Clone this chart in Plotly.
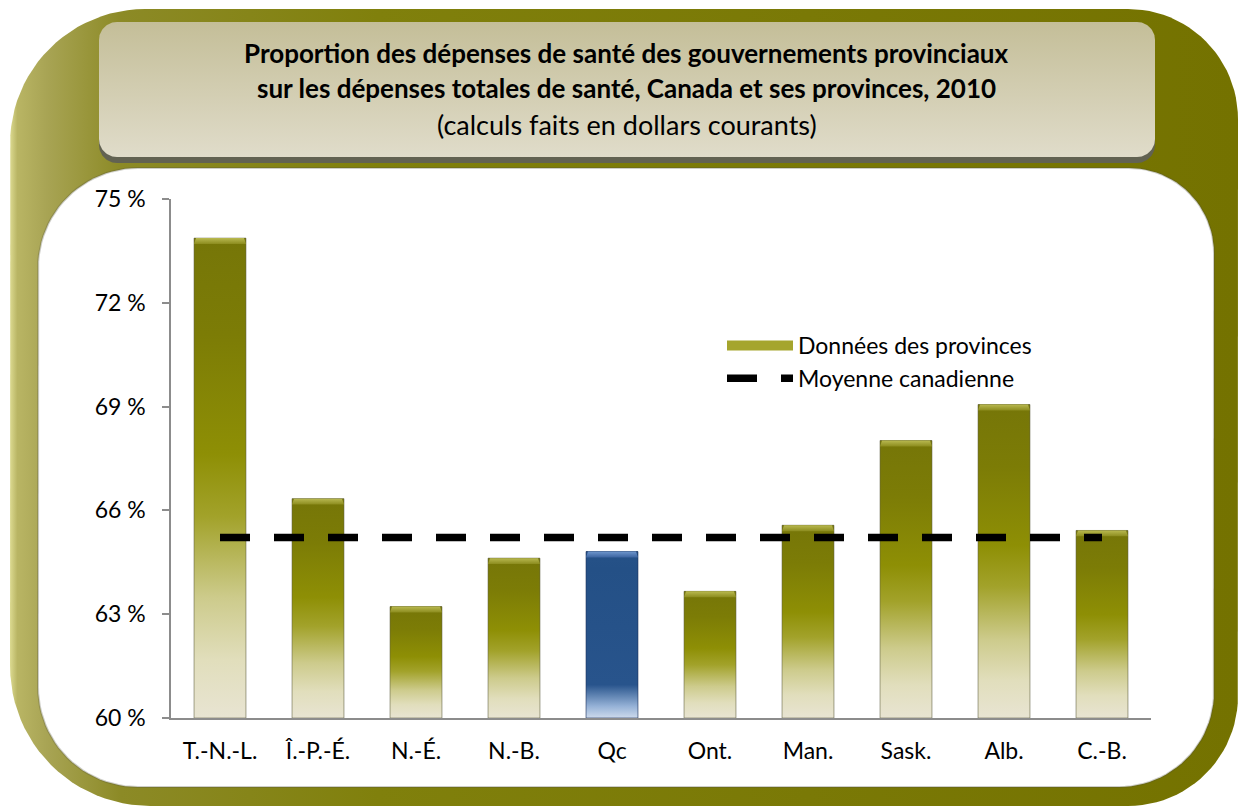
import math
import plotly.graph_objects as go

# ---------------- data ----------------
categories = ["T.-N.-L.", "Î.-P.-É.", "N.-É.", "N.-B.", "Qc", "Ont.", "Man.", "Sask.", "Alb.", "C.-B."]
province_share = [73.87, 66.34, 63.22, 64.62, 64.81, 63.66, 65.57, 68.02, 69.06, 65.42]
canada_average = 65.22
y_tick_values = [60, 63, 66, 69, 72, 75]
y_tick_labels = ["60 %", "63 %", "66 %", "69 %", "72 %", "75 %"]
highlight_category = "Qc"

title_line1 = "Proportion des dépenses de santé des gouvernements provinciaux"
title_line2 = "sur les dépenses totales de santé, Canada et ses provinces, 2010"
title_line3 = "(calculs faits en dollars courants)"
series_bar_name = "Données des provinces"
series_line_name = "Moyenne canadienne"

# ---------------- style ----------------
W, H = 1239, 810
FONT = "Lato"
OLIVE = "rgb(128,128,8)"
BLUE = "rgb(36,80,135)"
BAR_W = 0.53
Y0 = 60

olive_scale = [[0.0, "rgb(232,228,210)"], [0.12, "rgb(225,222,188)"], [0.25, "rgb(205,203,140)"],
               [0.42, "rgb(162,162,42)"], [0.55, "rgb(142,143,5)"], [0.8, "rgb(124,124,6)"],
               [1.0, "rgb(118,118,8)"]]
blue_scale = [[0.0, "rgb(205,218,236)"], [0.07, "rgb(150,178,215)"], [0.2, "rgb(40,84,140)"],
              [0.9, "rgb(36,80,134)"], [1.0, "rgb(38,82,136)"]]


def rrect(x0, y0, x1, y1, rtl, rtr, rbr, rbl, n=24):
    xs, ys = [], []

    def arc(cx, cy, r, a0, a1):
        for k in range(n + 1):
            t = math.radians(a0 + (a1 - a0) * k / n)
            xs.append(cx + r * math.cos(t))
            ys.append(cy + r * math.sin(t))

    arc(x1 - rtr, y0 + rtr, rtr, -90, 0)
    arc(x1 - rbr, y1 - rbr, rbr, 0, 90)
    arc(x0 + rbl, y1 - rbl, rbl, 90, 180)
    arc(x0 + rtl, y0 + rtl, rtl, 180, 270)
    xs.append(xs[0]); ys.append(ys[0])
    return xs, ys


fig = go.Figure()

# ---------- decorative frame (pixel axes x/y) ----------
fx, fy = rrect(10, 9, 1238, 806, 135, 110, 110, 140)
fig.add_trace(go.Scatter(x=fx, y=fy, mode="lines", fill="toself", line=dict(width=0),
                         fillgradient=dict(type="horizontal", colorscale=[
                             [0.0, "rgb(220,218,145)"], [0.006, "rgb(185,181,100)"],
                             [0.03, "rgb(168,164,84)"], [0.09, "rgb(140,138,38)"],
                             [0.3, "rgb(128,128,12)"], [1.0, "rgb(116,114,0)"]]),
                         hoverinfo="skip", showlegend=False, xaxis="x", yaxis="y"))
wx, wy = rrect(38, 168, 1214, 787, 100, 85, 95, 100)
fig.add_trace(go.Scatter(x=wx, y=wy, mode="lines", fill="toself", fillcolor="white",
                         line=dict(width=2, color="rgba(80,80,60,0.28)"),
                         hoverinfo="skip", showlegend=False, xaxis="x", yaxis="y"))
sx, sy = rrect(99, 27, 1155, 163, 18, 18, 18, 18)
fig.add_trace(go.Scatter(x=sx, y=sy, mode="lines", fill="toself", fillcolor="rgb(98,98,82)",
                         line=dict(width=0), hoverinfo="skip", showlegend=False, xaxis="x", yaxis="y"))
tx, ty = rrect(99, 22, 1155, 157, 18, 18, 18, 18)
fig.add_trace(go.Scatter(x=tx, y=ty, mode="lines", fill="toself", line=dict(width=0),
                         fillgradient=dict(type="vertical", colorscale=[
                             [0.0, "rgb(224,220,202)"], [1.0, "rgb(196,190,152)"]]),
                         hoverinfo="skip", showlegend=False, xaxis="x", yaxis="y"))

# ---------- chart (axes x2/y2) ----------
xpos = list(range(len(categories)))
colors = [BLUE if c == highlight_category else OLIVE for c in categories]
fig.add_trace(go.Bar(x=xpos, y=province_share, width=BAR_W, marker=dict(color=colors, line=dict(width=0)),
                     name=series_bar_name, showlegend=False, customdata=categories,
                     hovertemplate="%{customdata}: %{y:.1f} %<extra></extra>",
                     xaxis="x2", yaxis="y2"))

# gradient skin for each bar, built from the same data
for i, (c, v) in enumerate(zip(categories, province_share)):
    hl = c == highlight_category
    xs = [i - BAR_W / 2, i + BAR_W / 2, i + BAR_W / 2, i - BAR_W / 2, i - BAR_W / 2]
    ys = [Y0, Y0, v, v, Y0]
    fig.add_trace(go.Scatter(x=xs, y=ys, mode="lines", fill="toself",
                             line=dict(width=1, color="rgba(95,95,70,0.55)" if not hl else "rgba(30,50,90,0.6)"),
                             fillgradient=dict(type="vertical", colorscale=blue_scale if hl else olive_scale),
                             hoverinfo="skip", showlegend=False, xaxis="x2", yaxis="y2"))
    bev = 0.17
    bx = [i - BAR_W / 2 + 0.02, i + BAR_W / 2 - 0.02, i + BAR_W / 2, i - BAR_W / 2, i - BAR_W / 2 + 0.02]
    by = [v, v, v - bev, v - bev, v]
    fig.add_trace(go.Scatter(x=bx, y=by, mode="lines", fill="toself", line=dict(width=0),
                             fillgradient=dict(type="vertical", colorscale=(
                                 [[0, "rgb(60,100,160)"], [1, "rgb(110,150,205)"]] if hl else
                                 [[0, "rgb(140,140,30)"], [1, "rgb(185,185,80)"]])),
                             hoverinfo="skip", showlegend=False, xaxis="x2", yaxis="y2"))

# legend swatch for the bars
fig.add_trace(go.Scatter(x=[None], y=[None], mode="lines", name=series_bar_name,
                         line=dict(color="rgb(165,165,45)", width=14), xaxis="x2", yaxis="y2"))

# Canadian average
fig.add_trace(go.Scatter(x=[xpos[0], xpos[-1]], y=[canada_average, canada_average], mode="lines",
                         name=series_line_name, line=dict(color="black", width=7.5, dash="30px,24px"),
                         hovertemplate="Moyenne canadienne: %{y:.1f} %<extra></extra>",
                         xaxis="x2", yaxis="y2"))

# ---------- titles ----------
ann = []
for txt, yc, bold, fs in [(title_line1, 53, True, 26), (title_line2, 88, True, 26), (title_line3, 124, False, 27)]:
    ann.append(dict(text=f"<b>{txt}</b>" if bold else txt, x=627 / W, y=1 - yc / H, xref="paper", yref="paper",
                    xanchor="center", yanchor="middle", showarrow=False,
                    font=dict(family=FONT, size=fs, color="black")))

px0, px1 = 171, 1151
py_top, py_bot = 199, 718
fig.update_layout(
    width=W, height=H, margin=dict(l=0, r=0, t=0, b=0, autoexpand=False),
    paper_bgcolor="white", plot_bgcolor="rgba(0,0,0,0)",
    font=dict(family=FONT, size=23, color="black"),
    showlegend=True,
    legend=dict(x=722 / W, y=1 - 324 / H, xanchor="left", yanchor="top", bgcolor="rgba(0,0,0,0)",
                font=dict(family=FONT, size=23, color="black"), itemwidth=66, traceorder="normal"),
    annotations=ann,
    xaxis=dict(domain=[0, 1], range=[0, W], visible=False, fixedrange=True),
    yaxis=dict(domain=[0, 1], range=[H, 0], visible=False, fixedrange=True),
    xaxis2=dict(domain=[px0 / W, px1 / W], range=[-0.5, len(categories) - 0.5], anchor="y2",
                tickmode="array", tickvals=xpos, ticktext=categories, showgrid=False, zeroline=False,
                showline=True, linecolor="#8c8c8c", linewidth=1.5, ticks="", ticklabelstandoff=12,
                tickfont=dict(family=FONT, size=23, color="black"), fixedrange=True),
    yaxis2=dict(domain=[1 - py_bot / H, 1 - py_top / H], range=[60, 75], anchor="x2",
                tickmode="array", tickvals=y_tick_values, ticktext=y_tick_labels, showgrid=False,
                zeroline=False, showline=True, linecolor="#8c8c8c", linewidth=1.5, ticks="outside",
                ticklen=7, tickcolor="#8c8c8c", tickwidth=1.5, ticklabelstandoff=12,
                tickfont=dict(family=FONT, size=23, color="black"), fixedrange=True),
)

fig.write_html("out.html", config={"displayModeBar": False},
               post_script="document.body.style.margin='0';document.body.style.overflow='hidden';")
